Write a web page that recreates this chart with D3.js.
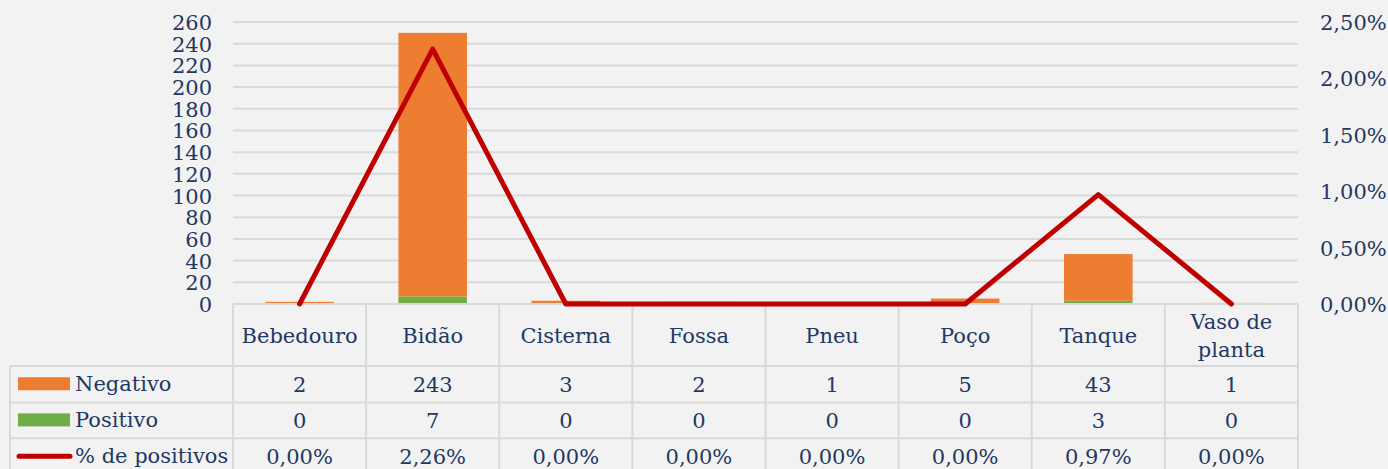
<!DOCTYPE html>
<html>
<head>
<meta charset="utf-8">
<script src="https://cdn.jsdelivr.net/npm/d3@7"></script>
<style>
  html, body { margin: 0; padding: 0; background: #f2f2f2; }
  svg { display: block; }
  text { font-family: "DejaVu Serif", Georgia, serif; font-size: 21px; fill: #1f3864; }
</style>
</head>
<body>
<svg id="chart" width="1388" height="469"></svg>
<script>
// data
const categories = ["Bebedouro", "Bidão", "Cisterna", "Fossa", "Pneu", "Poço", "Tanque", "Vaso de planta"];
const negativo = [2, 243, 3, 2, 1, 5, 43, 1];
const positivo = [0, 7, 0, 0, 0, 0, 3, 0];
const pctPositivos = [0, 2.26, 0, 0, 0, 0, 0.97, 0];
const leftTicks = d3.range(0, 261, 20);
const rightTicks = [0, 0.5, 1, 1.5, 2, 2.5];
const seriesNames = ["Negativo", "Positivo", "% de positivos"];

const colors = { neg: "#ed7d31", pos: "#70ad47", line: "#c00000", grid: "#d9d9d9" };

const svg = d3.select("#chart");
const plot = { left: 233, right: 1298, top: 22, bottom: 304 };
const rowLines = [304, 366, 402.5, 438.3, 474];
const legendLeft = 10;

const x = d3.scaleBand().domain(categories).range([plot.left, plot.right]).padding(0);
const yL = d3.scaleLinear().domain([0, 260]).range([plot.bottom, plot.top]);
const yR = d3.scaleLinear().domain([0, 2.5]).range([plot.bottom, plot.top]);
const barW = x.bandwidth() * 0.515;

const ptBR = d3.formatLocale({ decimal: ",", thousands: ".", grouping: [3], currency: ["R$", ""] });
const fmtPct = d => ptBR.format(".2f")(d) + "%";

// gridlines
svg.append("g").selectAll("line")
  .data(leftTicks.filter(d => d > 0))
  .join("line")
  .attr("x1", plot.left).attr("x2", plot.right)
  .attr("y1", d => yL(d)).attr("y2", d => yL(d))
  .attr("stroke", colors.grid).attr("stroke-width", 2);

// left axis labels
svg.append("g").selectAll("text")
  .data(leftTicks)
  .join("text")
  .attr("x", 212)
  .attr("y", d => yL(d) + 8)
  .attr("text-anchor", "end")
  .text(d => d);

// right axis labels
svg.append("g").selectAll("text")
  .data(rightTicks)
  .join("text")
  .attr("x", 1320)
  .attr("y", d => yR(d) + 8)
  .text(d => fmtPct(d));

// stacked bars
const rows = categories.map((c, i) => ({ cat: c, pos: positivo[i], neg: negativo[i] }));
const stack = d3.stack().keys(["pos", "neg"])(rows);

svg.append("g").selectAll("g")
  .data(stack)
  .join("g")
  .attr("fill", d => d.key === "pos" ? colors.pos : colors.neg)
  .selectAll("rect")
  .data(d => d)
  .join("rect")
  .attr("x", d => x(d.data.cat) + (x.bandwidth() - barW) / 2)
  .attr("width", barW)
  .attr("y", d => yL(d[1]))
  .attr("height", d => yL(d[0]) - yL(d[1]));

// table grid
const grid = svg.append("g").attr("stroke", colors.grid).attr("stroke-width", 2);
grid.append("line")
  .attr("x1", plot.left).attr("x2", plot.right)
  .attr("y1", rowLines[0]).attr("y2", rowLines[0]);
grid.selectAll("line.h")
  .data(rowLines.slice(1, 4))
  .join("line").attr("class", "h")
  .attr("x1", legendLeft).attr("x2", plot.right)
  .attr("y1", d => d).attr("y2", d => d);
grid.selectAll("line.v")
  .data(categories.map(c => x(c)).concat([plot.right]))
  .join("line").attr("class", "v")
  .attr("x1", d => d).attr("x2", d => d)
  .attr("y1", rowLines[0]).attr("y2", 469);
grid.append("line")
  .attr("x1", legendLeft).attr("x2", legendLeft)
  .attr("y1", rowLines[1]).attr("y2", 469);

// line series
const line = d3.line()
  .x((d, i) => x(categories[i]) + x.bandwidth() / 2)
  .y(d => yR(d));

svg.append("path")
  .datum(pctPositivos)
  .attr("d", line)
  .attr("fill", "none")
  .attr("stroke", colors.line)
  .attr("stroke-width", 5)
  .attr("stroke-linejoin", "round")
  .attr("stroke-linecap", "round");

// header (category names, wrap long ones)
const header = svg.append("g").selectAll("text")
  .data(categories)
  .join("text")
  .attr("text-anchor", "middle")
  .attr("x", d => x(d) + x.bandwidth() / 2);

header.each(function(d) {
  const t = d3.select(this);
  const cx = x(d) + x.bandwidth() / 2;
  t.text(d);
  if (this.getComputedTextLength() > x.bandwidth() - 10) {
    const words = d.split(" ");
    const l1 = words.slice(0, -1).join(" ");
    const l2 = words[words.length - 1];
    t.text(null);
    t.append("tspan").attr("x", cx).attr("y", 329).text(l1);
    t.append("tspan").attr("x", cx).attr("y", 357).text(l2);
  } else {
    t.attr("y", 343);
  }
});

// table rows
const tableRows = [
  { name: seriesNames[0], vals: negativo.map(String) },
  { name: seriesNames[1], vals: positivo.map(String) },
  { name: seriesNames[2], vals: pctPositivos.map(fmtPct) }
];

const rowG = svg.append("g").selectAll("g")
  .data(tableRows)
  .join("g")
  .attr("transform", (d, i) => `translate(0,${(rowLines[i + 1] + rowLines[i + 2]) / 2})`);

rowG.selectAll("text.v")
  .data(d => d.vals)
  .join("text").attr("class", "v")
  .attr("text-anchor", "middle")
  .attr("x", (d, i) => x(categories[i]) + x.bandwidth() / 2)
  .attr("y", 8)
  .text(d => d);

rowG.append("text")
  .attr("x", 75)
  .attr("y", 7)
  .text(d => d.name);

// legend keys
rowG.filter((d, i) => i < 2).append("rect")
  .attr("x", 18).attr("y", -7)
  .attr("width", 52).attr("height", 13)
  .attr("fill", (d, i) => i === 0 ? colors.neg : colors.pos);

rowG.filter((d, i) => i === 2).append("line")
  .attr("x1", 19).attr("x2", 70)
  .attr("y1", 0).attr("y2", 0)
  .attr("stroke", colors.line)
  .attr("stroke-width", 5)
  .attr("stroke-linecap", "round");
</script>
</body>
</html>
